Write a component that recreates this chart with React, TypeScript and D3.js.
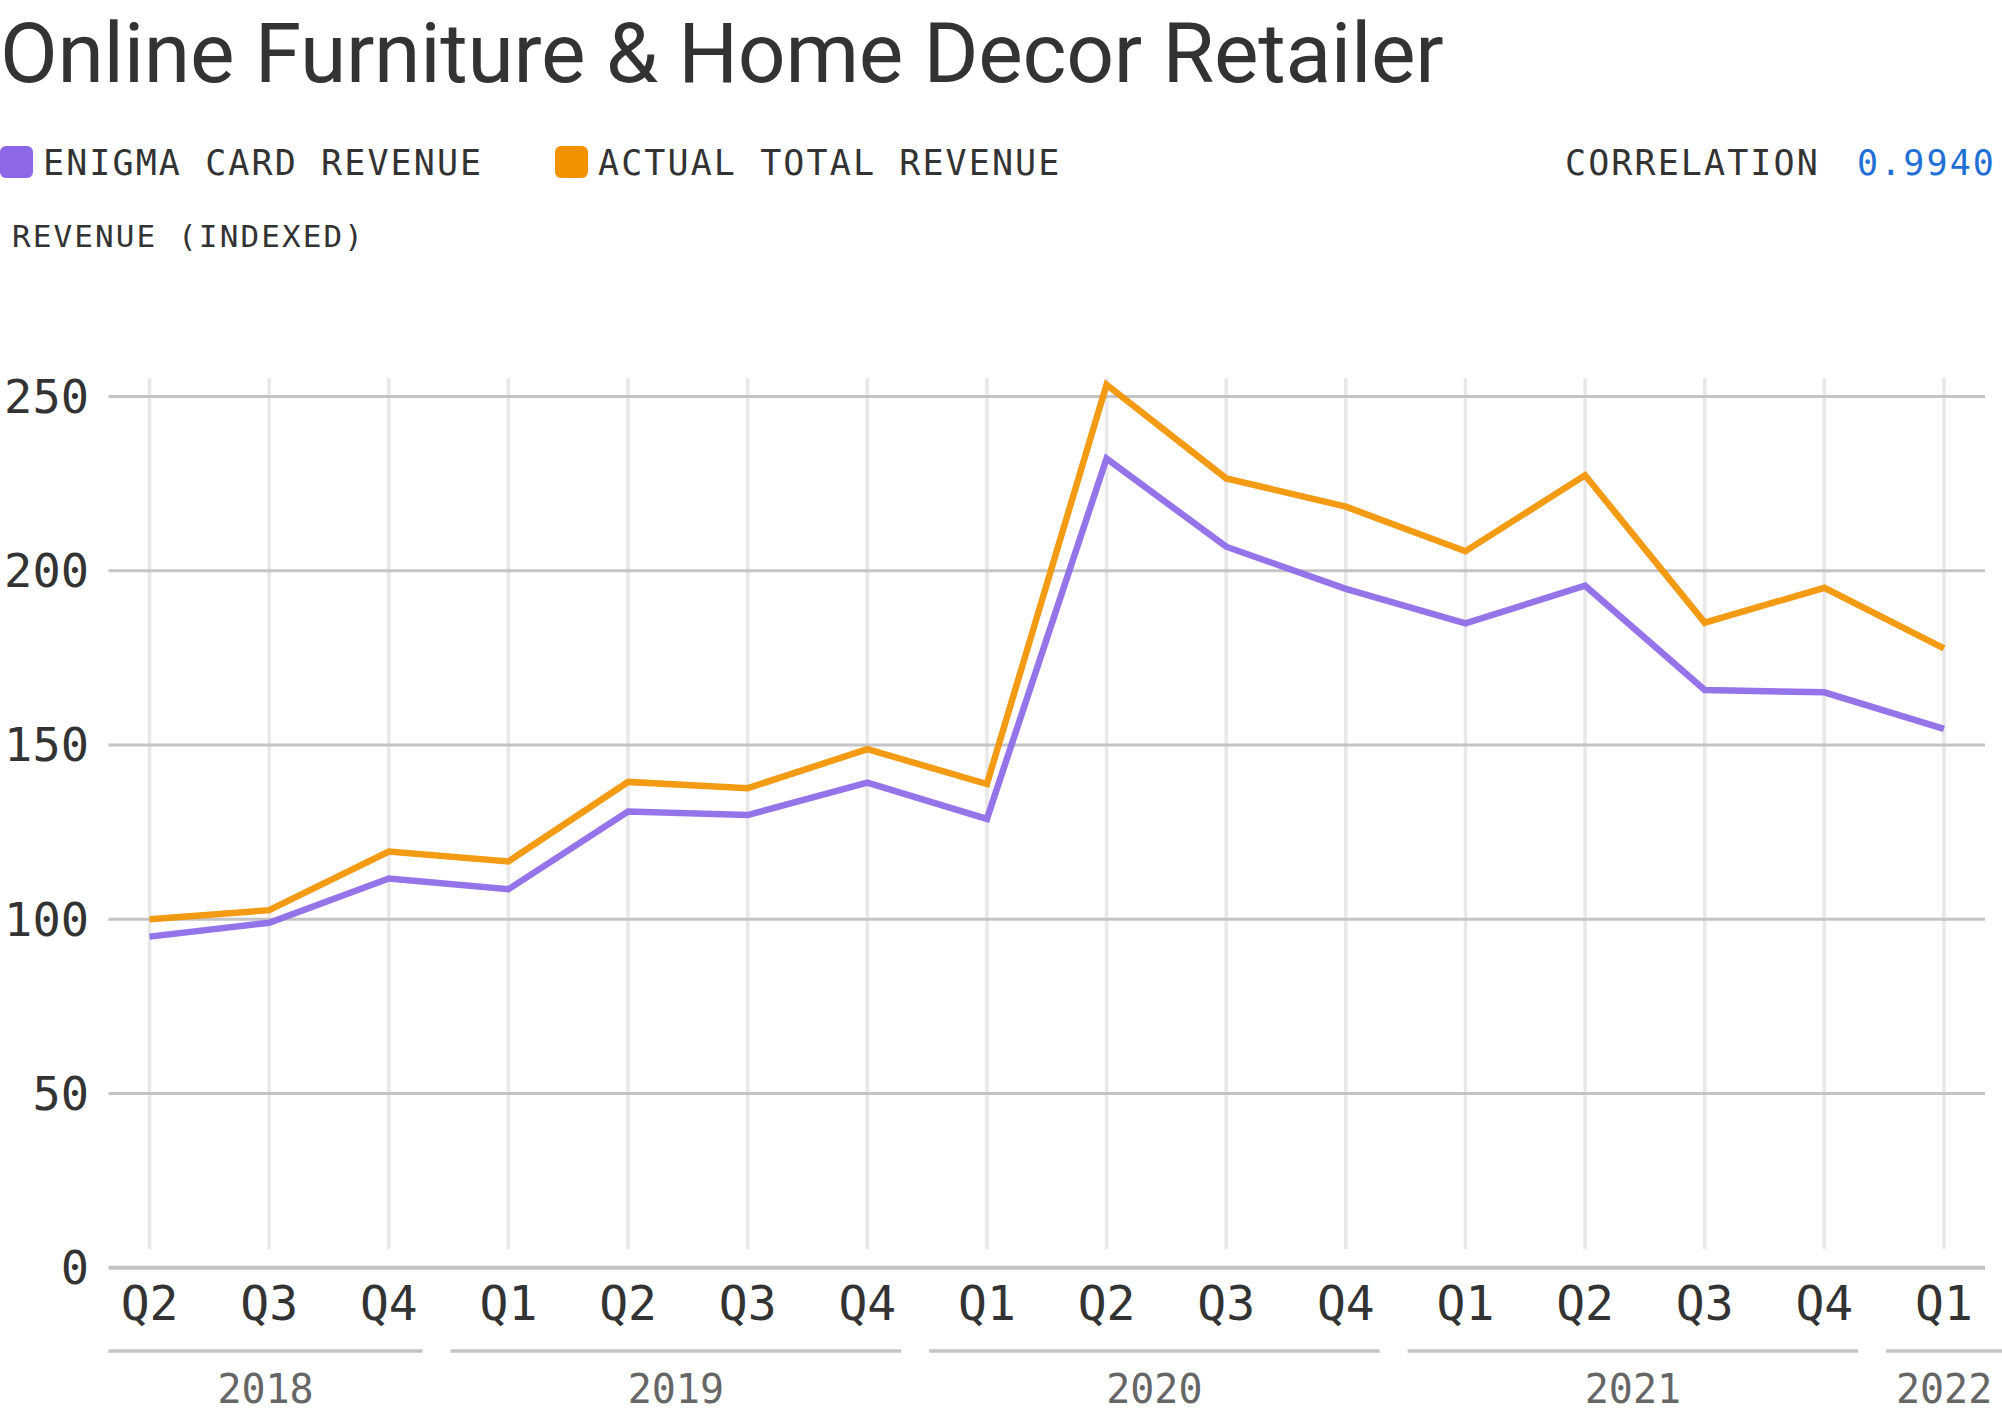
import React from "react";
import { line, scaleLinear, scalePoint } from "d3";

// quarters from Q2 2018 to Q1 2022
const quarters = ["Q2", "Q3", "Q4", "Q1", "Q2", "Q3", "Q4", "Q1", "Q2", "Q3", "Q4", "Q1", "Q2", "Q3", "Q4", "Q1"];
const quarterYears = ["2018", "2018", "2018", "2019", "2019", "2019", "2019", "2020", "2020", "2020", "2020", "2021", "2021", "2021", "2021", "2022"];
const years = ["2018", "2019", "2020", "2021", "2022"];

const enigmaCardRevenue = [95.0, 99.0, 111.7, 108.6, 130.9, 129.9, 139.2, 128.8, 232.2, 206.9, 194.8, 184.9, 195.7, 165.8, 165.1, 154.6];
const actualTotalRevenue = [100.0, 102.6, 119.4, 116.6, 139.4, 137.6, 148.8, 138.8, 253.4, 226.5, 218.4, 205.6, 227.4, 185.1, 195.1, 177.7];

const yTicks = [0, 50, 100, 150, 200, 250];

const W = 2002;
const H = 1417;
const MONO = "'DejaVu Sans Mono', monospace";
const PURPLE = "#8c68e8";
const ORANGE = "#f39200";

export default function App() {
  const keys = quarters.map((q, i) => `${quarterYears[i]}-${q}`);
  const plotLeft = 108.5;
  const plotRight = 1985;

  const x = scalePoint<string>().domain(keys).range([plotLeft, plotRight]).padding(0.343);
  const y = scaleLinear().domain([0, 250]).range([1267.7, 396.5]);
  const step = x.step();

  const path = line<number>()
    .x((_, i) => x(keys[i])!)
    .y((d) => y(d));

  const segments = years.map((yr) => {
    const first = quarterYears.indexOf(yr);
    const last = quarterYears.lastIndexOf(yr);
    const left = first === 0 ? plotLeft : x(keys[first])! - step / 2 + 2;
    const right = last === keys.length - 1 ? W : x(keys[last])! + step / 2 - 26;
    return { yr, left, right };
  });

  return (
    <svg
      width={W}
      height={H}
      style={{ position: "absolute", left: 0, top: 0, background: "#fff" }}
    >
      <text x={0} y={82} fontFamily="Roboto" fontSize={84} letterSpacing={-0.3} fill="#333">
        Online Furniture &amp; Home Decor Retailer
      </text>

      {/* legend */}
      <rect x={0} y={146} width={33} height={32} rx={6} fill={PURPLE} />
      <text x={43} y={175} fontFamily={MONO} fontSize={35} letterSpacing={2.1} fill="#333">
        ENIGMA CARD REVENUE
      </text>
      <rect x={555} y={146} width={33} height={32} rx={6} fill={ORANGE} />
      <text x={598} y={175} fontFamily={MONO} fontSize={35} letterSpacing={2.1} fill="#333">
        ACTUAL TOTAL REVENUE
      </text>
      <text x={1565} y={175} fontFamily={MONO} fontSize={35} letterSpacing={2.1} fill="#333">
        CORRELATION
      </text>
      <text x={1857} y={175} fontFamily={MONO} fontSize={35} letterSpacing={2.1} fill="#1f6fd6">
        0.9940
      </text>
      <text x={12} y={247} fontFamily={MONO} fontSize={31} letterSpacing={2.1} fill="#333">
        REVENUE (INDEXED)
      </text>

      {/* vertical grid */}
      {keys.map((k) => (
        <line
          key={`v-${k}`}
          x1={x(k)}
          x2={x(k)}
          y1={378}
          y2={1249}
          stroke="#e8e8e8"
          strokeWidth={3.5}
        />
      ))}

      {/* horizontal grid + y labels */}
      {yTicks.map((t) => (
        <g key={`h-${t}`}>
          <line
            x1={plotLeft}
            x2={plotRight}
            y1={y(t)}
            y2={y(t)}
            stroke="#c4c4c4"
            strokeWidth={t === 0 ? 4 : 3}
          />
          <text
            x={89}
            y={y(t)}
            textAnchor="end"
            dominantBaseline="central"
            fontFamily={MONO}
            fontSize={47}
            fill="#333"
          >
            {t}
          </text>
        </g>
      ))}

      {/* series */}
      <path d={path(enigmaCardRevenue)!} fill="none" stroke={PURPLE} strokeWidth={6.5} strokeOpacity={0.92} />
      <path d={path(actualTotalRevenue)!} fill="none" stroke={ORANGE} strokeWidth={6.5} strokeOpacity={0.92} />

      {/* x labels */}
      {keys.map((k, i) => (
        <text
          key={`xl-${k}`}
          x={x(k)}
          y={1320}
          textAnchor="middle"
          fontFamily={MONO}
          fontSize={48}
          fill="#333"
        >
          {quarters[i]}
        </text>
      ))}

      {/* year brackets */}
      {segments.map(({ yr, left, right }) => (
        <g key={`yr-${yr}`}>
          <line x1={left} x2={right} y1={1351} y2={1351} stroke="#c4c4c4" strokeWidth={3.5} />
          <text
            x={(left + right) / 2}
            y={1403}
            textAnchor="middle"
            fontFamily={MONO}
            fontSize={40}
            fill="#666"
          >
            {yr}
          </text>
        </g>
      ))}
    </svg>
  );
}
